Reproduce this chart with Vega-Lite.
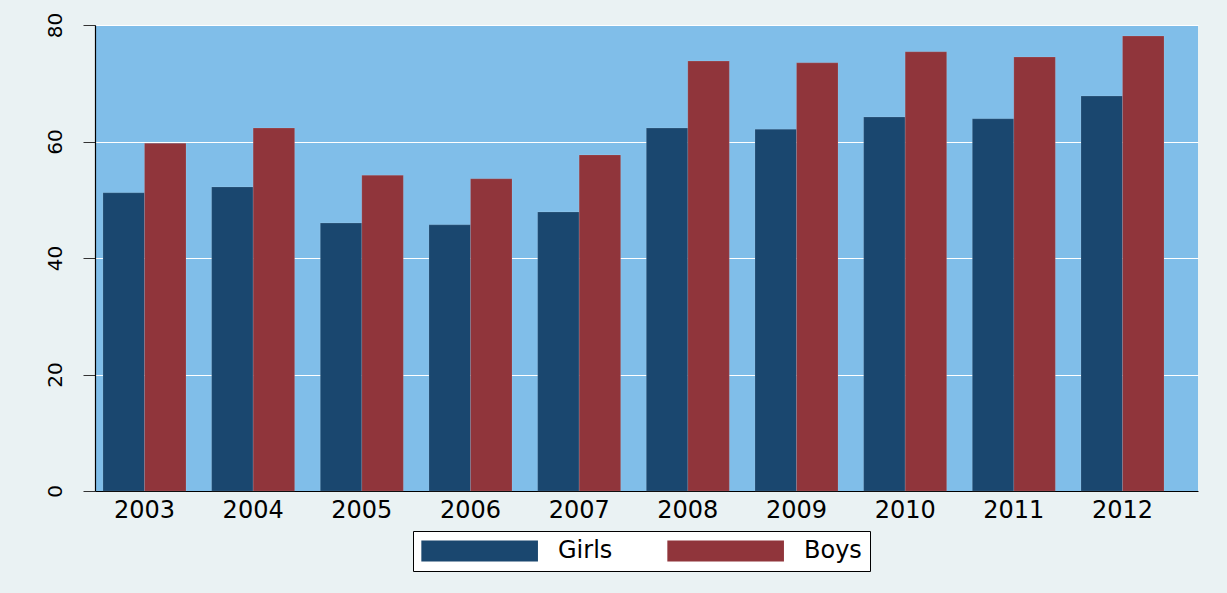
{
  "$schema": "https://vega.github.io/schema/vega-lite/v6.json",
  "width": 1103,
  "height": 466,
  "autosize": {"type": "none"},
  "padding": {"left": 95, "top": 25, "right": 29, "bottom": 102},
  "background": "#EAF2F3",
  "config": {
    "view": {"stroke": null, "fill": "#80BEE9"},
    "font": "DejaVu Sans"
  },
  "data": {
    "values": [
      {"year": "2003", "group": "Girls", "value": 51.2},
      {"year": "2003", "group": "Boys", "value": 59.7},
      {"year": "2004", "group": "Girls", "value": 52.2},
      {"year": "2004", "group": "Boys", "value": 62.3},
      {"year": "2005", "group": "Girls", "value": 46.0},
      {"year": "2005", "group": "Boys", "value": 54.2},
      {"year": "2006", "group": "Girls", "value": 45.7},
      {"year": "2006", "group": "Boys", "value": 53.6},
      {"year": "2007", "group": "Girls", "value": 47.9},
      {"year": "2007", "group": "Boys", "value": 57.7},
      {"year": "2008", "group": "Girls", "value": 62.3},
      {"year": "2008", "group": "Boys", "value": 73.8},
      {"year": "2009", "group": "Girls", "value": 62.1},
      {"year": "2009", "group": "Boys", "value": 73.5},
      {"year": "2010", "group": "Girls", "value": 64.2},
      {"year": "2010", "group": "Boys", "value": 75.4},
      {"year": "2011", "group": "Girls", "value": 63.9},
      {"year": "2011", "group": "Boys", "value": 74.5},
      {"year": "2012", "group": "Girls", "value": 67.8},
      {"year": "2012", "group": "Boys", "value": 78.1}
    ]
  },
  "mark": {"type": "bar", "stroke": "#ffffff", "strokeOpacity": 0.12, "strokeWidth": 1},
  "encoding": {
    "x": {
      "field": "year",
      "type": "nominal",
      "scale": {"paddingInner": 0.236, "paddingOuter": 0.193, "align": 0.19},
      "axis": {
        "title": null,
        "labelAngle": 0,
        "labelFontSize": 24,
        "labelColor": "#000000",
        "labelPadding": 7,
        "ticks": false,
        "domainColor": "#000000",
        "domainWidth": 1.2,
        "grid": false
      }
    },
    "xOffset": {
      "field": "group",
      "type": "nominal",
      "sort": ["Girls", "Boys"],
      "scale": {"paddingInner": 0, "paddingOuter": 0}
    },
    "y": {
      "field": "value",
      "type": "quantitative",
      "scale": {"domain": [0, 80], "nice": false},
      "axis": {
        "title": null,
        "values": [0, 20, 40, 60, 80],
        "labelAngle": -90,
        "labelAlign": "center",
        "labelBaseline": "bottom",
        "labelFontSize": 20,
        "labelColor": "#000000",
        "labelPadding": 18,
        "tickSize": 12,
        "tickColor": "#333333",
        "domainColor": "#000000",
        "domainWidth": 1.2,
        "grid": true,
        "gridColor": "#ffffff",
        "gridWidth": 1.2
      }
    },
    "color": {
      "field": "group",
      "type": "nominal",
      "sort": ["Girls", "Boys"],
      "scale": {"domain": ["Girls", "Boys"], "range": ["#1A476F", "#90353B"]},
      "legend": {
        "title": null,
        "orient": "none",
        "legendX": 318,
        "legendY": 506,
        "direction": "horizontal",
        "fillColor": "#ffffff",
        "strokeColor": "#000000",
        "padding": 8,
        "symbolType": "M-1,-0.9H9V0.9H-1Z",
        "symbolSize": 544,
        "symbolStrokeWidth": 0,
        "symbolOpacity": 1,
        "labelFontSize": 24,
        "labelColor": "#000000",
        "labelOffset": 113,
        "columnPadding": 54
      }
    }
  }
}
